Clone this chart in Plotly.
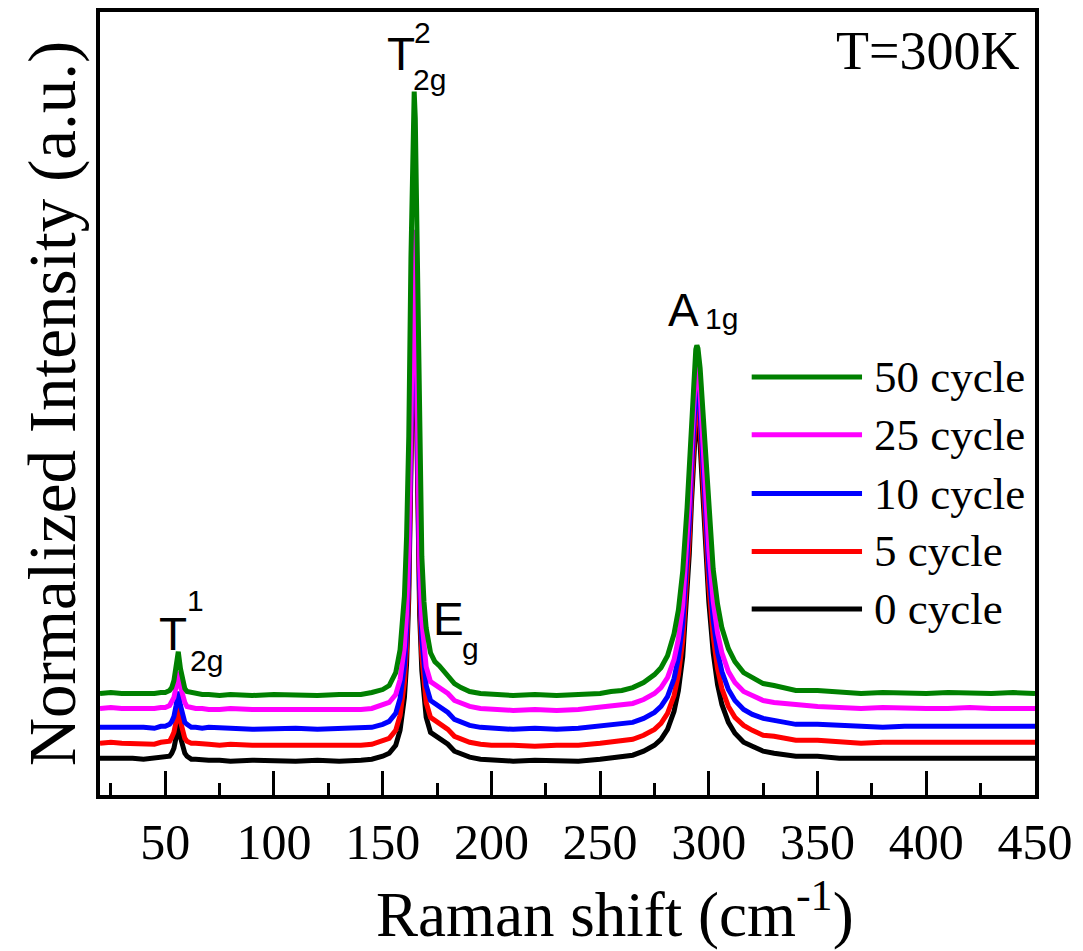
import plotly.graph_objects as go

# Raman shift axis (cm^-1)
raman_shift = [20, 25, 30, 35, 40, 45, 48, 50, 52, 53, 54, 55, 56, 57, 58, 59, 60, 62, 64, 67,
               70, 75, 80, 90, 100, 110, 120, 130, 140, 145, 150, 153, 156, 158, 160, 161, 162, 163, 164, 164.5,
               165, 166, 167, 168, 169, 170, 172, 174, 176, 178, 180, 183, 186, 190, 195, 200, 210, 220, 230, 240,
               250, 255, 260, 265, 270, 275, 278, 281, 284, 286, 288, 290, 291, 292, 293, 294, 294.5, 295, 296, 297,
               298, 300, 302, 304, 306, 309, 312, 316, 320, 325, 330, 335, 340, 350, 360, 370, 380, 390, 400, 410,
               420, 430, 440, 450]

# Normalized intensity (a.u., offset-stacked as in the figure)
cycle_0 = [37, 37, 38, 37, 36, 37, 38, 38, 39, 42, 47, 58, 73, 58, 47, 42, 39, 36, 36, 35,
           35, 35, 34, 35, 34, 34, 35, 34, 35, 36, 39, 42, 50, 65, 98, 132, 198, 325, 496, 525,
           467, 293, 181, 125, 94, 78, 63, 60, 58, 54, 51, 44, 41, 38, 36, 35, 34, 35, 34, 34,
           36, 37, 38, 40, 44, 50, 56, 66, 84, 105, 139, 199, 242, 293, 343, 375, 379, 377, 352, 313,
           269, 194, 143, 111, 91, 73, 62, 53, 49, 44, 42, 40, 39, 39, 37, 37, 37, 36, 37, 37,
           36, 37, 37, 37]

cycle_5 = [52, 53, 52, 52, 52, 51, 53, 53, 54, 58, 63, 74, 89, 74, 63, 57, 54, 52, 52, 51,
           51, 50, 51, 50, 50, 50, 49, 50, 50, 51, 54, 57, 65, 80, 113, 147, 213, 340, 511, 538,
           482, 308, 196, 140, 109, 93, 78, 75, 73, 69, 66, 59, 56, 53, 51, 50, 50, 49, 50, 50,
           52, 53, 54, 56, 60, 66, 72, 82, 100, 121, 155, 215, 258, 309, 359, 391, 395, 393, 368, 329,
           285, 210, 159, 127, 107, 89, 78, 70, 65, 60, 59, 57, 55, 55, 54, 52, 53, 53, 52, 53,
           53, 52, 53, 53]

cycle_10 = [68, 68, 69, 68, 68, 67, 69, 69, 71, 74, 79, 90, 104, 90, 79, 73, 71, 68, 68, 67,
            68, 67, 67, 66, 67, 67, 66, 67, 67, 68, 71, 74, 82, 97, 130, 164, 230, 357, 528, 553,
            499, 325, 213, 157, 126, 110, 95, 92, 90, 86, 83, 76, 73, 70, 68, 67, 66, 67, 66, 67,
            69, 70, 71, 73, 77, 83, 89, 99, 117, 138, 172, 232, 275, 326, 376, 408, 414, 410, 385, 346,
            302, 227, 176, 144, 124, 106, 95, 86, 81, 77, 75, 73, 71, 71, 70, 69, 68, 69, 69, 70,
            69, 69, 69, 69]

cycle_25 = [87, 88, 87, 87, 86, 87, 88, 88, 90, 93, 98, 109, 124, 109, 98, 93, 89, 88, 87, 87,
            86, 86, 87, 86, 86, 85, 86, 86, 86, 87, 90, 93, 101, 116, 149, 183, 249, 376, 547, 568,
            518, 344, 232, 176, 145, 129, 114, 111, 109, 105, 102, 95, 92, 89, 87, 86, 85, 86, 85, 86,
            88, 89, 90, 92, 96, 102, 108, 118, 136, 157, 191, 251, 294, 345, 395, 427, 432, 429, 404, 365,
            321, 246, 195, 163, 143, 124, 113, 104, 100, 95, 93, 92, 90, 89, 88, 87, 88, 87, 87, 87,
            88, 87, 87, 87]

cycle_50 = [102, 103, 102, 102, 101, 102, 103, 103, 105, 108, 115, 127, 144, 127, 115, 107, 104, 103, 103, 101,
            101, 100, 101, 100, 101, 100, 100, 101, 101, 103, 106, 110, 123, 146, 200, 260, 360, 540, 690, 707,
            680, 500, 330, 240, 194, 168, 143, 134, 130, 125, 120, 112, 108, 104, 102, 101, 100, 101, 100, 101,
            102, 104, 105, 108, 113, 121, 128, 140, 162, 186, 225, 289, 330, 377, 421, 448, 452, 449, 429, 394,
            353, 280, 227, 192, 168, 147, 134, 123, 118, 112, 110, 107, 105, 105, 103, 102, 103, 102, 102, 103,
            102, 102, 103, 102]

series_names = ["0 cycle", "5 cycle", "10 cycle", "25 cycle", "50 cycle"]
series_values = [cycle_0, cycle_5, cycle_10, cycle_25, cycle_50]
series_colors = ["#000000", "#FF0000", "#0000FF", "#FF00FF", "#008000"]

x_ticks = [50, 100, 150, 200, 250, 300, 350, 400, 450]

fig = go.Figure()
for name, vals, col in zip(series_names, series_values, series_colors):
    fig.add_trace(go.Scatter(x=raman_shift, y=vals, mode="lines", name=name,
                             line=dict(color=col, width=5), showlegend=False))

SERIF = "Liberation Serif, Times New Roman, serif"
SANS = "Liberation Sans, Arial, sans-serif"

# Manual legend (long line samples as in the original)
legend_rows = [("50 cycle", "#008000", 0.534), ("25 cycle", "#FF00FF", 0.460),
               ("10 cycle", "#0000FF", 0.385), ("5 cycle", "#FF0000", 0.311),
               ("0 cycle", "#000000", 0.2376)]
shapes = []
annotations = []
for label, col, yy in legend_rows:
    shapes.append(dict(type="line", xref="paper", yref="paper", x0=0.697, x1=0.815, y0=yy, y1=yy,
                       line=dict(color=col, width=5)))
    annotations.append(dict(text=label, xref="paper", yref="paper", x=0.826, y=yy, xanchor="left",
                            yanchor="middle", showarrow=False, font=dict(family=SERIF, size=45, color="black")))

annotations.append(dict(text="T=300K", xref="paper", yref="paper", x=0.8845, y=0.950, xanchor="center",
                        yanchor="middle", showarrow=False, font=dict(family=SERIF, size=54, color="black")))

# X-axis title (placed as in the original, slightly right of centre)
annotations.append(dict(text="Raman shift (cm<sup>-1</sup>)", xref="paper", yref="paper", x=0.551, y=-0.147,
                        xanchor="center", yanchor="middle", showarrow=False,
                        font=dict(family=SERIF, size=63, color="black")))

# Peak labels (data coordinates)
def lab(text, x, y, size):
    annotations.append(dict(text=text, x=x, y=y, xref="x", yref="y", showarrow=False, xanchor="center",
                            yanchor="middle", font=dict(family=SANS, size=size, color="black")))

lab("T", 53.6, 162, 46)
lab("1", 63.7, 195, 30)
lab("2g", 69.2, 135, 30)
lab("T", 158.3, 745, 46)
lab("2", 168.5, 766, 30)
lab("2g", 171.5, 719, 30)
lab("E", 180.5, 177, 46)
lab("g", 190.6, 147, 30)
lab("A", 288.3, 487, 46)
lab("1g", 306.0, 479, 30)

fig.update_layout(
    width=1083, height=951,
    margin=dict(l=100, r=48, t=8, b=156),
    paper_bgcolor="white", plot_bgcolor="white",
    shapes=shapes, annotations=annotations,
    xaxis=dict(range=[20, 450], tickvals=x_ticks, ticks="inside", ticklen=24, tickwidth=3,
               tickcolor="black", showline=True, linewidth=4, linecolor="black", mirror=True,
               showgrid=False, zeroline=False,
               tickfont=dict(family=SERIF, size=50, color="black"),
               minor=dict(dtick=25, tick0=0, ticks="inside", ticklen=12, tickwidth=3, tickcolor="black")),
    yaxis=dict(range=[0, 787], showticklabels=False, ticks="", showline=True, linewidth=4,
               linecolor="black", mirror=True, showgrid=False, zeroline=False,
               title=dict(text="Normalized Intensity (a.u.)", font=dict(family=SERIF, size=67, color="black"),
                          standoff=0)),
)

fig.write_html("out.html")
